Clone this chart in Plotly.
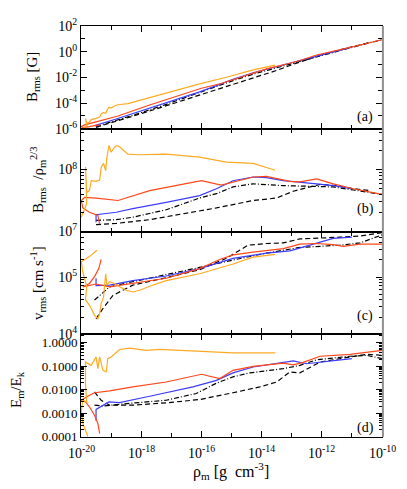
import plotly.graph_objects as go
from plotly.subplots import make_subplots

# All values are log10 of what is plotted.
# x = log10(rho_m [g cm^-3]); panels (a) and (b) share the same sampling.

# ---- panel (a) B_rms [G] and panel (b) B_rms / rho_m^(2/3) ----
orange_ab_x = [-19.99, -19.81, -19.85, -19.81, -19.72, -19.66, -19.50, -19.38, -19.33, -19.25,
               -19.18, -19.14, -19.07, -19.00, -18.89, -18.81, -18.70, -18.44, -18.11, -17.17,
               -16.06, -15.17, -14.28, -13.55]
orange_a_y = [-6.10, -5.76, -5.19, -5.58, -5.49, -5.29, -5.19, -5.09, -4.85, -4.73,
              -4.81, -4.56, -4.32, -4.39, -4.23, -4.15, -4.11, -4.04, -3.83, -3.20,
              -2.51, -1.99, -1.42, -1.04]
orange_b_y = [7.23, 7.45, 8.04, 7.63, 7.66, 7.82, 7.81, 7.83, 8.04, 8.10,
              7.98, 8.20, 8.39, 8.28, 8.36, 8.39, 8.36, 8.25, 8.24, 8.25,
              8.20, 8.12, 8.10, 7.99]

red_ab_x = [-19.38, -19.44, -19.72, -19.94, -19.99, -19.88, -19.50, -18.77, -17.72, -16.00,
            -15.34, -14.28, -13.84, -13.06, -12.73, -12.17, -11.62, -10.95, -10.00]
red_a_y = [-5.80, -5.70, -5.84, -5.91, -5.83, -5.70, -5.46, -5.01, -4.15, -2.85,
           -2.48, -1.64, -1.34, -0.90, -0.69, -0.26, 0.02, 0.39, 0.93]
red_b_y = [7.12, 7.26, 7.31, 7.38, 7.50, 7.55, 7.54, 7.50, 7.66, 7.82,
           7.75, 7.88, 7.89, 7.81, 7.80, 7.85, 7.77, 7.69, 7.60]

blue_ab_x = [-19.50, -19.50, -18.83, -18.28, -17.17, -16.06, -15.50, -14.95, -14.28, -13.84,
             -13.28, -12.73, -12.17, -11.62, -11.00]
blue_a_y = [-5.85, -5.73, -5.24, -4.82, -3.98, -3.13, -2.64, -2.15, -1.64, -1.36,
            -1.03, -0.69, -0.34, -0.01, 0.36]
blue_b_y = [7.15, 7.27, 7.31, 7.37, 7.47, 7.58, 7.69, 7.82, 7.88, 7.87,
            7.82, 7.80, 7.77, 7.74, 7.69]

dashdot_ab_x = [-19.50, -18.83, -18.28, -17.17, -16.06, -15.50, -14.95, -14.28, -13.28, -12.73,
                -12.17, -11.62, -10.95, -10.00]
dashdot_a_y = [-5.82, -5.36, -4.96, -4.10, -3.17, -2.72, -2.25, -1.75, -1.11, -0.76,
               -0.39, -0.03, 0.37, 0.93]
dashdot_b_y = [7.18, 7.19, 7.23, 7.35, 7.54, 7.61, 7.72, 7.77, 7.74, 7.73,
               7.72, 7.72, 7.67, 7.60]

dashed_ab_x = [-19.50, -18.83, -17.72, -16.61, -15.50, -14.28, -13.50, -12.95, -12.06, -11.51,
               -10.95, -10.40]
dashed_a_y = [-5.89, -5.42, -4.62, -3.79, -2.95, -2.02, -1.46, -0.98, -0.28, 0.07,
              0.39, 0.73]
dashed_b_y = [7.11, 7.13, 7.19, 7.28, 7.38, 7.50, 7.54, 7.65, 7.76, 7.74,
              7.69, 7.66]

# ---- panel (c) v_rms [cm s^-1] ----
orange_c_x = [-19.47, -19.72, -19.99, -19.94, -19.81, -19.85, -19.72, -19.55, -19.44, -19.38,
              -19.33, -19.25, -19.18, -19.14, -19.05, -18.89, -18.72, -18.50, -18.28, -18.05,
              -17.72, -17.17, -16.06, -14.95, -14.28, -13.55]
orange_c_y = [5.47, 5.36, 5.27, 5.09, 4.83, 4.60, 4.51, 4.33, 4.27, 4.36,
              4.54, 4.65, 5.06, 4.86, 4.92, 4.89, 4.83, 4.77, 4.74, 4.77,
              4.84, 4.94, 5.06, 5.23, 5.35, 5.40]
red_c_x = [-19.33, -19.41, -19.55, -19.72, -19.94, -19.72, -19.50, -19.05, -18.28, -17.17,
           -16.06, -15.39, -14.95, -14.28, -13.28, -12.73, -12.17, -11.62, -11.29, -10.73, -10.00]
red_c_y = [5.31, 5.15, 5.01, 4.89, 4.83, 4.86, 4.88, 4.83, 4.89, 4.98,
           5.15, 5.31, 5.39, 5.44, 5.50, 5.58, 5.59, 5.57, 5.54, 5.58, 5.58]
blue_c_x = [-19.50, -19.50, -19.05, -18.28, -17.17, -16.06, -14.95, -13.84, -13.06, -12.40,
            -11.62, -11.00]
blue_c_y = [4.98, 4.85, 4.86, 4.94, 5.02, 5.15, 5.33, 5.42, 5.46, 5.56,
            5.68, 5.70]
dashdot_c_x = [-19.55, -19.38, -19.05, -18.28, -17.17, -16.06, -14.95, -13.84, -12.73, -12.06,
               -11.40, -10.73, -10.00]
dashdot_c_y = [4.60, 4.68, 4.83, 4.92, 5.04, 5.17, 5.30, 5.42, 5.52, 5.54,
               5.56, 5.60, 5.74]
dashed_c_x = [-19.50, -19.27, -18.94, -18.28, -17.17, -16.06, -15.17, -14.73, -14.45, -13.84,
              -13.28, -12.73, -12.06, -11.40, -10.73, -10.00]
dashed_c_y = [4.27, 4.45, 4.68, 4.86, 4.99, 5.13, 5.33, 5.47, 5.56, 5.59,
              5.60, 5.67, 5.68, 5.70, 5.72, 5.78]

# ---- panel (d) E_m / E_k ----
orange_d_x = [-19.77, -19.92, -20.00, -19.94, -19.81, -19.85, -19.85, -19.66, -19.50, -19.44,
              -19.38, -19.27, -19.16, -19.11, -19.00, -18.83, -18.72, -18.39, -17.83, -17.39,
              -16.28, -14.95, -13.55]
orange_d_y = [-4.00, -3.51, -3.01, -2.45, -2.52, -1.74, -0.82, -0.96, -0.60, -1.10,
              -0.60, -1.17, -1.24, -0.67, -0.60, -0.39, -0.28, -0.22, -0.32, -0.28,
              -0.36, -0.43, -0.43]
red_d_x = [-19.38, -19.44, -19.55, -19.72, -19.85, -19.99, -19.81, -19.55, -19.05, -18.28,
           -17.17, -16.00, -15.39, -14.95, -14.28, -13.28, -12.95, -12.62, -12.06, -11.06, -10.00]
red_d_y = [-3.87, -3.44, -3.09, -2.73, -2.52, -2.45, -2.30, -2.13, -2.05, -1.88,
           -1.67, -1.34, -1.52, -1.17, -1.00, -0.86, -0.94, -0.83, -0.57, -0.49, -0.32]
blue_d_x = [-19.50, -19.50, -19.07, -18.72, -17.72, -16.28, -15.50, -14.95, -14.28, -13.61,
            -12.95, -12.51, -12.06, -11.62, -11.00]
blue_d_y = [-3.33, -2.84, -2.52, -2.55, -2.28, -1.88, -1.60, -1.28, -1.03, -0.91,
            -0.77, -0.89, -0.83, -0.77, -0.67]
dashdot_d_x = [-19.55, -19.27, -18.72, -17.17, -16.17, -15.50, -14.95, -14.39, -13.28, -12.73,
               -12.17, -11.06, -10.51, -10.00]
dashdot_d_y = [-2.66, -2.70, -2.62, -2.45, -2.16, -1.72, -1.45, -1.28, -1.10, -0.96,
               -0.72, -0.57, -0.53, -0.67]
dashed_d_x = [-19.55, -19.33, -19.05, -18.28, -17.17, -16.06, -14.95, -14.06, -13.50, -13.06,
              -12.73, -12.39, -12.06, -11.62, -10.51, -10.00]
dashed_d_y = [-2.09, -2.45, -2.66, -2.66, -2.56, -2.42, -2.13, -1.88, -1.67, -1.24,
              -1.28, -1.03, -0.82, -0.72, -0.49, -0.53]

# ---- tick labels ----
x_tick_exp = [-20, -18, -16, -14, -12, -10]
a_tick_exp = [2, 0, -2, -4, -6]
b_tick_exp = [7, 8]
c_tick_exp = [4, 5]
d_tick_text = ["1.0000", "0.1000", "0.0100", "0.0010", "0.0001"]
d_tick_vals = [1.0, 0.1, 0.01, 0.001, 0.0001]

STYLE = {
    "dashed": dict(color="black", dash="5px,3px"),
    "dashdot": dict(color="black", dash="5px,2px,1px,2px"),
    "blue": dict(color="#3c3cff", dash="solid"),
    "red": dict(color="#ff4719", dash="solid"),
    "orange": dict(color="#ffaa22", dash="solid"),
}

SERIES = [
    # row, style, x, y
    (1, "dashed", dashed_ab_x, dashed_a_y),
    (1, "dashdot", dashdot_ab_x, dashdot_a_y),
    (1, "blue", blue_ab_x, blue_a_y),
    (1, "red", red_ab_x, red_a_y),
    (1, "orange", orange_ab_x, orange_a_y),
    (2, "dashed", dashed_ab_x, dashed_b_y),
    (2, "dashdot", dashdot_ab_x, dashdot_b_y),
    (2, "blue", blue_ab_x, blue_b_y),
    (2, "red", red_ab_x, red_b_y),
    (2, "orange", orange_ab_x, orange_b_y),
    (3, "dashed", dashed_c_x, dashed_c_y),
    (3, "dashdot", dashdot_c_x, dashdot_c_y),
    (3, "blue", blue_c_x, blue_c_y),
    (3, "red", red_c_x, red_c_y),
    (3, "orange", orange_c_x, orange_c_y),
    (4, "dashed", dashed_d_x, dashed_d_y),
    (4, "dashdot", dashdot_d_x, dashdot_d_y),
    (4, "blue", blue_d_x, blue_d_y),
    (4, "red", red_d_x, red_d_y),
    (4, "orange", orange_d_x, orange_d_y),
]

FONT = "Liberation Serif, Times New Roman, serif"
W, H = 407, 489
L, R, T, B = 81, 25, 26, 52


def pow10(v):
    return [10.0 ** e for e in v]


def sup(e):
    return "10<sup>%d</sup>" % e


def minor_vals(lo, hi):
    # 2..9 times every decade between 10^lo and 10^hi
    return [m * 10.0 ** d for d in range(lo, hi) for m in range(2, 10)]


fig = make_subplots(rows=4, cols=1, shared_xaxes=True, vertical_spacing=0)

for row, style, xs, ys in SERIES:
    st = STYLE[style]
    fig.add_trace(
        go.Scatter(
            x=pow10(xs), y=pow10(ys), mode="lines",
            line=dict(color=st["color"], dash=st["dash"], width=1.2),
            showlegend=False, hoverinfo="skip",
        ),
        row=row, col=1,
    )

axis_common = dict(
    showline=True, linecolor="black", linewidth=1, mirror="allticks",
    ticks="inside", tickcolor="black", ticklen=6, showgrid=False, zeroline=False,
)
tick14 = dict(family=FONT, size=14, color="black")
tick13 = dict(family=FONT, size=13, color="black")

# x tick marks from the axis; its labels are written as annotations below
fig.update_xaxes(
    type="log", range=[-20, -10],
    tickmode="array", tickvals=pow10(x_tick_exp),
    minor=dict(tickmode="array", tickvals=pow10(range(-19, -10, 2)), ticks="inside",
               ticklen=4, tickcolor="black"),
    showticklabels=False,
    **axis_common,
)

fig.update_yaxes(
    type="log", range=[-6.001, 2.001], tickmode="array",
    tickvals=pow10(a_tick_exp), ticktext=[sup(e) for e in a_tick_exp],
    minor=dict(tickmode="array", tickvals=pow10(range(-5, 2, 2)), ticks="inside",
               ticklen=4, tickcolor="black"),
    tickfont=tick14, row=1, col=1, **axis_common,
)
fig.update_yaxes(
    type="log", range=[6.999, 8.66], tickmode="array",
    tickvals=pow10(b_tick_exp), ticktext=[sup(e) for e in b_tick_exp],
    minor=dict(tickmode="array", tickvals=minor_vals(7, 9), ticks="inside",
               ticklen=3, tickcolor="black"),
    tickfont=tick14, row=2, col=1, **axis_common,
)
fig.update_yaxes(
    type="log", range=[3.999, 5.8], tickmode="array",
    tickvals=pow10(c_tick_exp), ticktext=[sup(e) for e in c_tick_exp],
    minor=dict(tickmode="array", tickvals=minor_vals(4, 6), ticks="inside",
               ticklen=3, tickcolor="black"),
    tickfont=tick14, row=3, col=1, **axis_common,
)
fig.update_yaxes(
    type="log", range=[-4.02, 0.37], tickmode="array",
    tickvals=d_tick_vals, ticktext=d_tick_text,
    minor=dict(tickmode="array", tickvals=minor_vals(-5, 1), ticks="inside",
               ticklen=3, tickcolor="black"),
    tickfont=tick13, row=4, col=1, **axis_common,
)

pw, ph = W - L - R, H - T - B


def px(xp):
    return (xp - L) / pw


def py(yp):
    return (H - B - yp) / ph


# x tick labels, centred under their ticks (log axis: x given as exponent)
for e in x_tick_exp:
    fig.add_annotation(
        text=sup(e), x=e, xref="x4", y=py(441), yref="paper",
        showarrow=False, xanchor="center", yanchor="top",
        font=tick14,
    )

annots = [
    ("B<sub>rms</sub> [G]", 33, 77),
    ("B<sub>rms</sub>  /ρ<sub>m</sub><sup>2/3</sup>", 38, 180),
    ("v<sub>rms</sub> [cm s<sup>-1</sup>]", 38, 283),
    ("E<sub>m</sub>/E<sub>k</sub>", 17, 390),
]
for text, xp, yp in annots:
    fig.add_annotation(
        text=text, x=px(xp), y=py(yp), xref="paper", yref="paper",
        textangle=-90, showarrow=False, xanchor="center", yanchor="middle",
        font=dict(family=FONT, size=15, color="black"),
    )

for text, yp in [("(a)", 117), ("(b)", 209), ("(c)", 316), ("(d)", 428)]:
    fig.add_annotation(
        text=text, x=px(365), y=py(yp), xref="paper", yref="paper",
        showarrow=False, xanchor="center", yanchor="middle",
        font=dict(family=FONT, size=14, color="black"),
    )

fig.add_annotation(
    text="ρ<sub>m</sub> [g  cm<sup>-3</sup>]", x=px(231), y=py(471),
    xref="paper", yref="paper", showarrow=False, xanchor="center", yanchor="middle",
    font=dict(family=FONT, size=16, color="black"),
)

# greyish right frame edge as in the scanned original
fig.add_shape(type="line", xref="paper", yref="paper", x0=1.003, x1=1.003, y0=0, y1=1,
              line=dict(color="#909090", width=2))

fig.update_layout(
    width=W, height=H,
    margin=dict(l=L, r=R, t=T, b=B, autoexpand=False),
    paper_bgcolor="white", plot_bgcolor="white",
    showlegend=False,
)

# drop the browser's default 8px body margin so the figure sits at the page origin
fig.write_html("out.html", config={"displayModeBar": False},
               post_script="document.body.style.margin='0px';")
